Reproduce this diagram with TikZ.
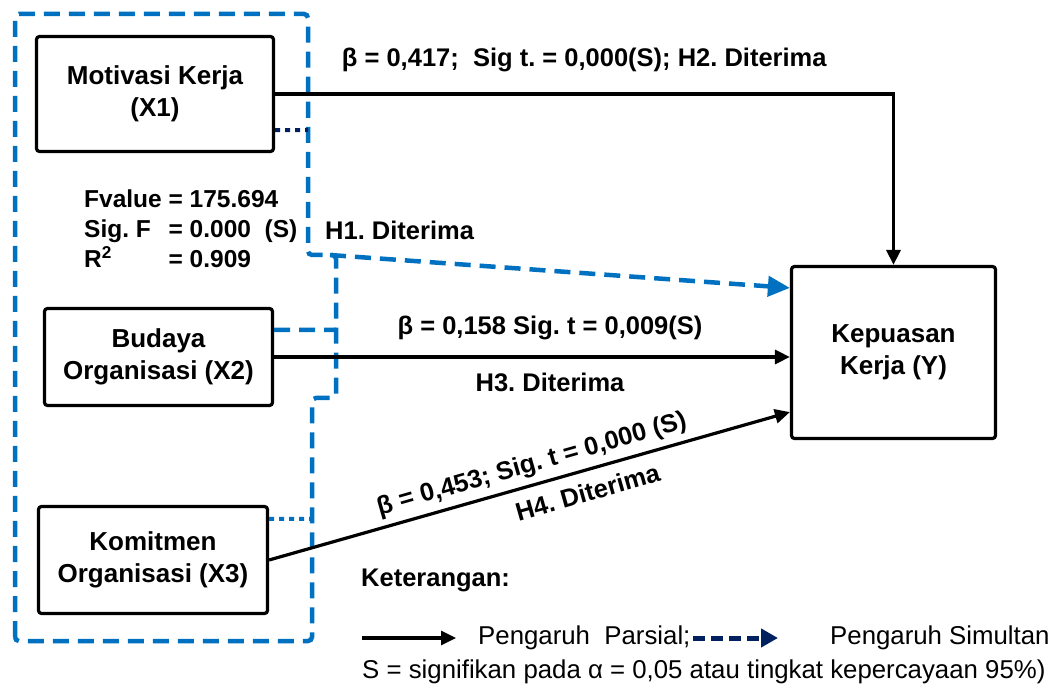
\documentclass[tikz,border=0pt]{standalone}
\usepackage{fontspec}
\setmainfont{Liberation Sans}
\usetikzlibrary{arrows.meta}
\definecolor{simblue}{RGB}{0,112,192}
\definecolor{simnavy}{RGB}{0,32,96}
\frenchspacing

\begin{document}
\begin{tikzpicture}[x=1pt,y=-1pt,
  main/.style = {draw, rectangle, rounded corners=3pt, line width=3.2pt, align=center, font=\bfseries\fontsize{26}{32}\selectfont},
  lbl/.style = {inner sep=0pt, font=\bfseries\fontsize{25.5}{30}\selectfont},
  leg/.style = {inner sep=0pt, font=\fontsize{25.8}{30}\selectfont},
  par/.style = {line width=3.2pt, -{Triangle[length=15pt,width=14pt]}},
  sim/.style = {draw=simblue, line width=4.5pt, dash pattern=on 16pt off 9pt}]
\useasboundingbox (0,0) rectangle (1053,692);
\node[main, minimum width=237pt, minimum height=115pt] (1) at (155,94) {Motivasi Kerja\\(X1)};
\node[main, minimum width=228pt, minimum height=97pt] (2) at (158.5,357) {Budaya\\Organisasi (X2)};
\node[main, minimum width=229pt, minimum height=107pt] (3) at (153,560) {Komitmen\\Organisasi (X3)};
\node[main, minimum width=204pt, minimum height=172pt] (4) at (893.5,352.5) {Kepuasan\\Kerja (Y)};
\coordinate (h1) at (330,255);
\coordinate (b1) at (308,130);
\coordinate (b2) at (336,330);
\coordinate (b3) at (312,519);
\draw[sim, rounded corners=4pt] (15,641) -- (15,14) -- (308,14) -- (308,255) -- (336,255) -- (336,398) -- (312,398) -- (312,641) -- cycle;
\draw[simnavy, line width=4pt, dash pattern=on 5pt off 5pt] ([yshift=23pt]1.south east) -- (b1);
\draw[sim] ([yshift=-23pt]2.north east) -- (b2);
\draw[simblue, line width=4pt, dash pattern=on 5pt off 5pt] ([yshift=-14pt]3.north east) -- (b3);
\draw[sim, -{Triangle[length=22pt,width=20pt,fill=simblue]}] (h1) -- ([yshift=-23pt]4.north west);
\draw[par] (1.east) -| node[lbl, pos=0.25, above=20pt] {β = 0,417;\ \ Sig t. = 0,000(S); H2. Diterima} (4.north);
\draw[par] (2.east) -- (2.east -| 4.west) node[lbl, pos=0.535, above=15pt] {β = 0,158 Sig. t = 0,009(S)} node[lbl, pos=0.535, below=14pt] {H3. Diterima};
\draw[par] (3.east) -- ([yshift=28pt]4.south west) node[lbl, sloped, pos=0.515, above=6pt] {β = 0,453; Sig. t = 0,000 (S)} node[lbl, sloped, pos=0.6, below=11pt] {H4. Diterima};
\node[anchor=north west, inner sep=0pt, font=\bfseries\fontsize{24.5}{30}\selectfont] (f) at (84,186) {\begin{tabular}{@{}l@{\ }l@{}}Fvalue & = 175.694\\Sig. F & = 0.000\ \ (S)\\R\textsuperscript{2} & = 0.909\end{tabular}};
\node[lbl, anchor=west] (h) at (325,230) {H1. Diterima};
\node[lbl, anchor=west] (k) at (361,580) {Keterangan:};
\coordinate (p1) at (362,638);
\coordinate (p2) at (456,638);
\coordinate (s1) at (693,638);
\coordinate (s2) at (778,638);
\draw[par] (p1) -- (p2);
\node[leg, anchor=west] (p) at (478,638) {Pengaruh\ \ Parsial;};
\draw[simnavy, line width=5pt, dash pattern=on 12pt off 6pt, -{Triangle[length=17pt,width=18pt]}] (s1) -- (s2);
\node[leg, anchor=west] (s) at (830,638) {Pengaruh Simultan};
\node[leg, anchor=west] (n) at (362,672) {S = signifikan pada α = 0,05 atau tingkat kepercayaan 95\%)};
\end{tikzpicture}
\end{document}
